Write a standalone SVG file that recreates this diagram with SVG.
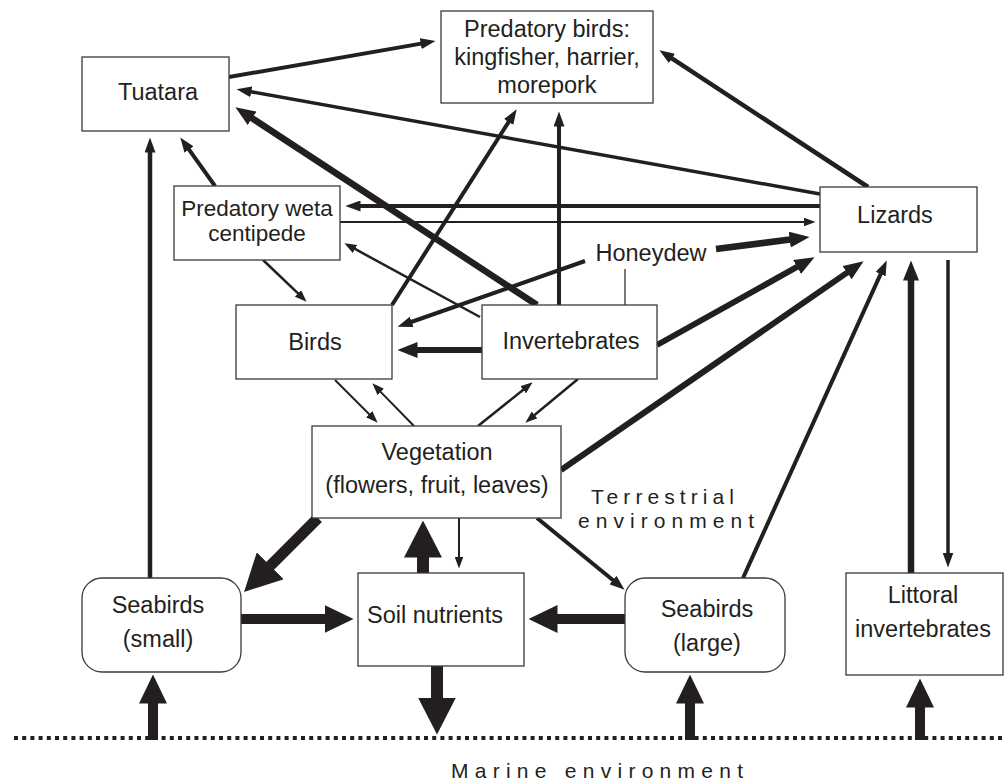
<svg xmlns="http://www.w3.org/2000/svg" width="1006" height="782" viewBox="0 0 1006 782">
<style>
.box{fill:#fff;stroke:#3a3a3a;stroke-width:1.3}
.t{font-family:"Liberation Sans",Arial,Helvetica,sans-serif;font-size:23.5px;fill:#231f20;text-anchor:middle}
.tw{font-size:22.5px}
.env{font-family:"Liberation Sans",Arial,Helvetica,sans-serif;font-size:21px;fill:#231f20}
.c line{stroke:#231f20;stroke-linecap:butt;fill:none}
.hd{fill:#231f20}
</style>
<defs>
<marker id="ms" markerUnits="userSpaceOnUse" viewBox="0 -4.5 12 9" markerWidth="12" markerHeight="9" refX="0.5" refY="0" orient="auto"><path class="hd" d="M0,-4.5 L12,0 L0,4.5 z"/></marker>
<marker id="mm" markerUnits="userSpaceOnUse" viewBox="0 -5.5 15 11" markerWidth="15" markerHeight="11" refX="0.5" refY="0" orient="auto"><path class="hd" d="M0,-5.5 L15,0 L0,5.5 z"/></marker>
<marker id="ml" markerUnits="userSpaceOnUse" viewBox="0 -8 20 16" markerWidth="20" markerHeight="16" refX="0.5" refY="0" orient="auto"><path class="hd" d="M0,-8 L20,0 L0,8 z"/></marker>
<marker id="mxl" markerUnits="userSpaceOnUse" viewBox="0 -14 29 28" markerWidth="29" markerHeight="28" refX="0.5" refY="0" orient="auto"><path class="hd" d="M0,-14 L29,0 L0,14 z"/></marker>
<marker id="mxxl" markerUnits="userSpaceOnUse" viewBox="0 -19 37 38" markerWidth="37" markerHeight="38" refX="0.5" refY="0" orient="auto"><path class="hd" d="M0,-19 L37,0 L0,19 z"/></marker>
</defs>
<rect width="1006" height="782" fill="#fff"/>

<g id="connectors" class="c">
<line x1="229" y1="77" x2="421.2" y2="43.6" stroke-width="4" marker-end="url(#mm)"/>
<line x1="820" y1="194" x2="250.8" y2="91.7" stroke-width="3.5" marker-end="url(#mm)"/>
<line x1="537" y1="305" x2="251.7" y2="118" stroke-width="6.5" marker-end="url(#ml)"/>
<line x1="215" y1="186" x2="188.7" y2="149.2" stroke-width="4" marker-end="url(#mm)"/>
<line x1="150" y1="578" x2="150" y2="152" stroke-width="4.5" marker-end="url(#mm)"/>
<line x1="868" y1="187" x2="671.5" y2="58.2" stroke-width="4.5" marker-end="url(#mm)"/>
<line x1="392" y1="305" x2="508.9" y2="121.6" stroke-width="4" marker-end="url(#mm)"/>
<line x1="559" y1="305" x2="559" y2="126" stroke-width="4" marker-end="url(#mm)"/>
<line x1="820" y1="206" x2="360" y2="206" stroke-width="4" marker-end="url(#mm)"/>
<line x1="340" y1="222" x2="804" y2="222" stroke-width="2" marker-end="url(#ms)"/>
<line x1="480" y1="317" x2="354.5" y2="248.7" stroke-width="2.5" marker-end="url(#ms)"/>
<line x1="263" y1="260" x2="298.3" y2="293.7" stroke-width="2.5" marker-end="url(#ms)"/>
<line x1="585" y1="261" x2="411.2" y2="322" stroke-width="4" marker-end="url(#mm)"/>
<line x1="716" y1="249" x2="790.2" y2="239.5" stroke-width="6.5" marker-end="url(#ml)"/>
<line x1="625" y1="269" x2="625" y2="305" stroke-width="1.2"/>
<line x1="482" y1="350" x2="417" y2="350" stroke-width="6" marker-end="url(#ml)"/>
<line x1="657" y1="345" x2="797.5" y2="266.7" stroke-width="6" marker-end="url(#ml)"/>
<line x1="561" y1="470" x2="847.5" y2="272.4" stroke-width="6" marker-end="url(#ml)"/>
<line x1="743" y1="578" x2="880.8" y2="273.7" stroke-width="4" marker-end="url(#mm)"/>
<line x1="911" y1="573" x2="911" y2="280" stroke-width="6.5" marker-end="url(#ml)"/>
<line x1="948" y1="260" x2="948" y2="553" stroke-width="3.5" marker-end="url(#mm)"/>
<line x1="335" y1="380" x2="369.5" y2="414.5" stroke-width="2" marker-end="url(#ms)"/>
<line x1="414" y1="426" x2="380.4" y2="391.6" stroke-width="2" marker-end="url(#ms)"/>
<line x1="478" y1="426" x2="523.6" y2="389.5" stroke-width="2.5" marker-end="url(#ms)"/>
<line x1="578" y1="379" x2="534.2" y2="415.3" stroke-width="2.5" marker-end="url(#ms)"/>
<line x1="318" y1="518" x2="269.9" y2="566.1" stroke-width="11" marker-end="url(#mxxl)"/>
<line x1="423" y1="573" x2="423" y2="557" stroke-width="12" marker-end="url(#mxxl)"/>
<line x1="459" y1="518" x2="459" y2="557" stroke-width="2" marker-end="url(#ms)"/>
<line x1="537" y1="518" x2="613.4" y2="580.5" stroke-width="4" marker-end="url(#mm)"/>
<line x1="241" y1="619" x2="325" y2="619" stroke-width="10" marker-end="url(#mxl)"/>
<line x1="625" y1="619" x2="557" y2="619" stroke-width="10" marker-end="url(#mxl)"/>
<line x1="437" y1="666" x2="437" y2="698" stroke-width="12" marker-end="url(#mxxl)"/>
<line x1="153" y1="740" x2="153" y2="703" stroke-width="10" marker-end="url(#mxl)"/>
<line x1="690" y1="740" x2="690" y2="703" stroke-width="10" marker-end="url(#mxl)"/>
<line x1="920" y1="740" x2="920" y2="707" stroke-width="10" marker-end="url(#mxl)"/>
<line x1="14" y1="738" x2="1004" y2="738" stroke-width="4" stroke-dasharray="4 4.2"/>
</g>

<g id="tuatara"><rect class="box" x="82" y="57" width="147" height="74"/><text class="t" x="158" y="100">Tuatara</text></g>
<g id="predatory-birds"><rect class="box" x="441" y="11" width="212" height="92"/><text class="t" x="547" y="37">Predatory birds:</text><text class="t" x="547" y="65">kingfisher, harrier,</text><text class="t" x="547" y="93">morepork</text></g>
<g id="predatory-weta"><rect class="box" x="174" y="186" width="166" height="74"/><text class="t tw" x="257" y="216">Predatory weta</text><text class="t tw" x="257" y="241">centipede</text></g>
<g id="lizards"><rect class="box" x="820" y="187" width="157" height="65"/><text class="t" x="895" y="223">Lizards</text></g>
<g id="honeydew"><text class="t" x="651" y="261">Honeydew</text></g>
<g id="birds"><rect class="box" x="236" y="305" width="156" height="74"/><text class="t" x="315" y="350">Birds</text></g>
<g id="invertebrates"><rect class="box" x="482" y="305" width="175" height="74"/><text class="t" x="571" y="349">Invertebrates</text></g>
<g id="vegetation"><rect class="box" x="312" y="426" width="249" height="92"/><text class="t" x="437" y="460">Vegetation</text><text class="t" x="437" y="493">(flowers, fruit, leaves)</text></g>
<g id="seabirds-small"><rect class="box" x="82" y="578" width="159" height="94" rx="20" ry="20"/><text class="t" x="158" y="613">Seabirds</text><text class="t" x="158" y="647">(small)</text></g>
<g id="soil-nutrients"><rect class="box" x="358" y="573" width="166" height="93"/><text class="t" x="435" y="623">Soil nutrients</text></g>
<g id="seabirds-large"><rect class="box" x="625" y="578" width="160" height="94" rx="20" ry="20"/><text class="t" x="707" y="617">Seabirds</text><text class="t" x="707" y="651">(large)</text></g>
<g id="littoral"><rect class="box" x="846" y="573" width="157" height="102"/><text class="t" x="923" y="603">Littoral</text><text class="t" x="923" y="637">invertebrates</text></g>
<g id="labels">
<text class="env" x="591" y="504" textLength="143" lengthAdjust="spacing">Terrestrial</text>
<text class="env" x="578" y="528" textLength="176" lengthAdjust="spacing">environment</text>
<text class="env" x="451" y="778" textLength="292" lengthAdjust="spacing">Marine environment</text>
</g>
</svg>
